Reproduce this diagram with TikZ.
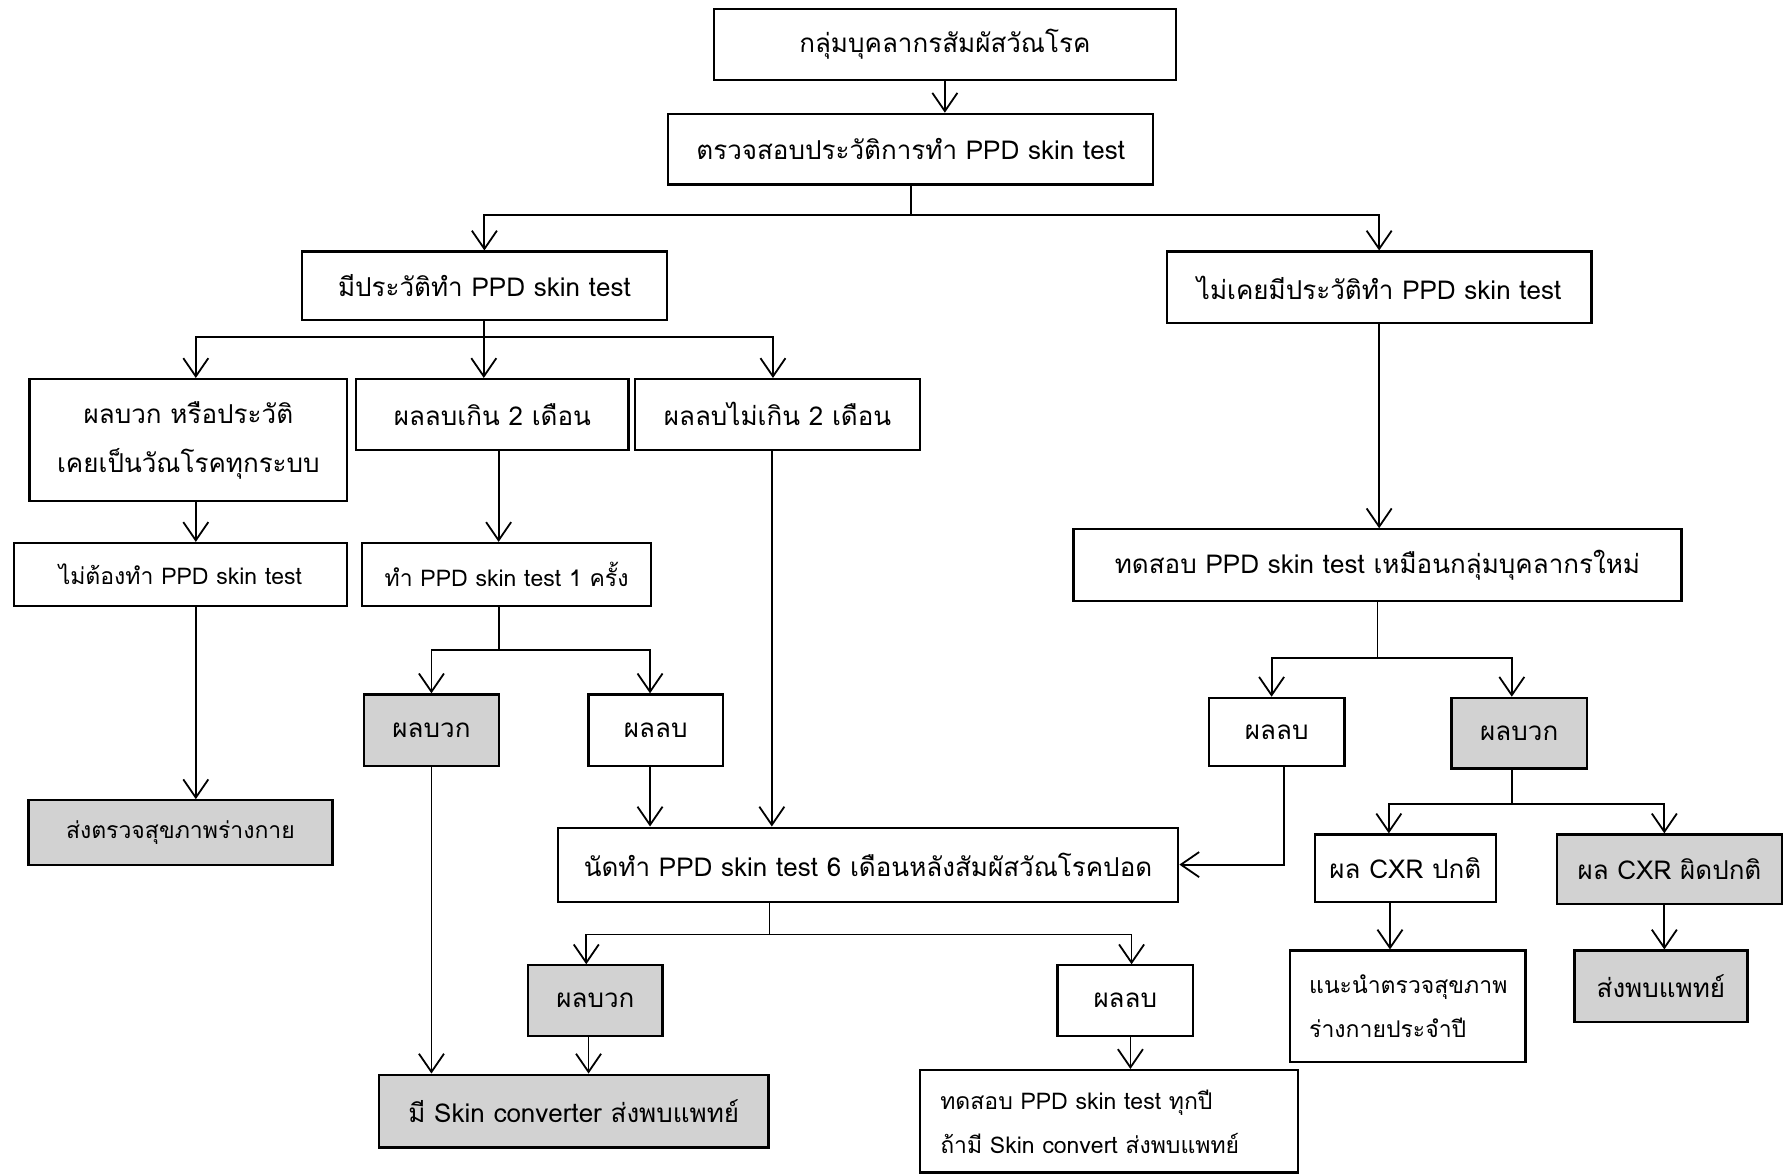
\documentclass[tikz,border=0pt]{standalone}
\usepackage{fontspec}
\setmainfont[Script=Thai]{Loma}
\usetikzlibrary{arrows.meta}
\begin{document}
\begin{tikzpicture}[x=0.2mm, y=-0.2mm,
    box/.style={draw, line width=1.1pt, inner sep=0pt, align=center, font=\fontsize{13}{22}\selectfont},
    smallbox/.style={box, font=\fontsize{11.5}{22}\selectfont},
    greybox/.style={box, fill=gray!35},
    link/.style={line width=0.9pt},
    arr/.style={link, -{Straight Barb[length=3.2mm, width=4.4mm]}}]
    \useasboundingbox (0, 0) rectangle (1568, 1031);

    \node[box, minimum width=81.2mm, minimum height=12.4mm] (top) at (830, 39) {กลุ่มบุคลากรสัมผัสวัณโรค};
    \node[box, minimum width=85.2mm, minimum height=12.4mm] (hist) at (800, 131) {ตรวจสอบประวัติการทำ PPD skin test};
    \node[box, minimum width=64.2mm, minimum height=12mm] (had) at (425.5, 251) {มีประวัติทำ PPD skin test};
    \node[box, minimum width=74.6mm, minimum height=12.6mm] (never) at (1211.5, 252.5) {ไม่เคยมีประวัติทำ PPD skin test};
    \node[box, minimum width=55.8mm, minimum height=21.4mm, font=\fontsize{13}{24.5}\selectfont] (posor) at (165.5, 386.5) {ผลบวก หรือประวัติ\\เคยเป็นวัณโรคทุกระบบ};
    \node[box, minimum width=47.8mm, minimum height=12.4mm] (negmore) at (432.5, 364) {ผลลบเกิน 2 เดือน};
    \node[box, minimum width=50mm, minimum height=12.4mm] (negle) at (683, 364) {ผลลบไม่เกิน 2 เดือน};
    \node[smallbox, minimum width=58.6mm, minimum height=11mm] (noneed) at (158.5, 504.5) {ไม่ต้องทำ PPD skin test};
    \node[smallbox, minimum width=50.8mm, minimum height=11mm] (once) at (445, 504.5) {ทำ PPD skin test 1 ครั้ง};
    \node[greybox, minimum width=23.6mm, minimum height=12.6mm] (pos) at (379, 641.5) {ผลบวก};
    \node[box, minimum width=23.6mm, minimum height=12.6mm] (neg) at (576, 641.5) {ผลลบ};
    \node[smallbox, fill=gray!35, minimum width=53.4mm, minimum height=11.4mm] (sendcheck) at (158.5, 731.5) {ส่งตรวจสุขภาพร่างกาย};
    \node[box, minimum width=109mm, minimum height=13mm] (appoint) at (762.5, 759.5) {นัดทำ PPD skin test 6 เดือนหลังสัมผัสวัณโรคปอด};
    \node[greybox, minimum width=23.6mm, minimum height=12.4mm] (pos2) at (523, 879) {ผลบวก};
    \node[box, minimum width=23.8mm, minimum height=12.4mm] (neg2) at (988.5, 879) {ผลลบ};
    \node[greybox, minimum width=68.4mm, minimum height=12.8mm] (conv) at (504, 976) {มี Skin converter ส่งพบแพทย์};
    \node[smallbox, align=left, inner xsep=3.6mm, text width=59.2mm, minimum height=18mm] (yearly) at (974, 985) {ทดสอบ PPD skin test ทุกปี\\ถ้ามี Skin convert ส่งพบแพทย์};
    \node[box, minimum width=106.8mm, minimum height=12.6mm] (newtest) at (1210, 496.5) {ทดสอบ PPD skin test เหมือนกลุ่มบุคลากรใหม่};
    \node[box, minimum width=23.8mm, minimum height=12mm] (neg3) at (1121.5, 643) {ผลลบ};
    \node[greybox, minimum width=23.8mm, minimum height=12.4mm] (pos3) at (1334.5, 644) {ผลบวก};
    \node[box, minimum width=31.8mm, minimum height=11.8mm] (cxrok) at (1234.5, 762.5) {ผล CXR ปกติ};
    \node[greybox, minimum width=39.4mm, minimum height=12.2mm] (cxrbad) at (1466.5, 763.5) {ผล CXR ผิดปกติ};
    \node[smallbox, align=left, inner xsep=3.4mm, text width=34.6mm, minimum height=19.6mm] (advise) at (1236.5, 884) {แนะนำตรวจสุขภาพ\\ร่างกายประจำปี};
    \node[greybox, minimum width=30.4mm, minimum height=12.6mm] (doctor) at (1459, 866.5) {ส่งพบแพทย์};

    \draw[arr] (top.south) -- (top.south |- hist.north);
    \draw[link] (hist.south) -- ++(0, 26) coordinate (f1);
    \draw[arr] (f1) -| (had.north);
    \draw[arr] (f1) -| (never.north);
    \draw[link] (had.south) -- ++(0, 14) coordinate (f2);
    \draw[arr] (f2) -| ([xshift=1.3mm]posor.north);
    \draw[arr] (f2) -| ([xshift=-1.5mm]negmore.north);
    \draw[arr] (f2) -| ([xshift=-0.8mm]negle.north);
    \draw[arr] ([xshift=1.3mm]posor.south) -- ([xshift=1.3mm]posor.south |- noneed.north);
    \draw[arr] ([xshift=1.1mm]negmore.south) -- ([xshift=1.1mm]negmore.south |- once.north);
    \draw[arr] ([xshift=2.7mm]noneed.south) -- ([xshift=2.7mm]noneed.south |- sendcheck.north);
    \draw[link] ([xshift=-1.4mm]once.south) -- ++(0, 38) coordinate (f3);
    \draw[arr] (f3) -| (pos.north);
    \draw[arr] (f3) -| ([xshift=-1mm]neg.north);
    \draw[arr] ([xshift=-1mm]neg.south) -- ([xshift=-1mm]neg.south |- appoint.north);
    \draw[arr] ([xshift=-1mm]negle.south) -- ([xshift=-1mm]negle.south |- appoint.north);
    \draw[arr] (pos.south) -- (pos.south |- conv.north);
    \draw[link] ([xshift=-17.3mm]appoint.south) -- ++(0, 28) coordinate (f4);
    \draw[arr] (f4) -| ([xshift=-1.6mm]pos2.north);
    \draw[arr] (f4) -| ([xshift=1.1mm]neg2.north);
    \draw[arr] ([xshift=-1.2mm]pos2.south) -- ([xshift=-1.2mm]pos2.south |- conv.north);
    \draw[arr] ([xshift=0.9mm]neg2.south) -- ([xshift=0.9mm]neg2.south |- yearly.north);
    \draw[arr] (never.south) -- (never.south |- newtest.north);
    \draw[link] (newtest.south) -- ++(0, 49) coordinate (f5);
    \draw[arr] (f5) -| ([xshift=-0.9mm]neg3.north);
    \draw[arr] (f5) -| ([xshift=-1.3mm]pos3.north);
    \draw[arr] ([xshift=1.3mm]neg3.south) |- (appoint.east);
    \draw[link] ([xshift=-1.3mm]pos3.south) -- ++(0, 30) coordinate (f6);
    \draw[arr] (f6) -| ([xshift=-2.9mm]cxrok.north);
    \draw[arr] (f6) -| ([xshift=-0.9mm]cxrbad.north);
    \draw[arr] ([xshift=-2.7mm]cxrok.south) -- ([xshift=-2.7mm]cxrok.south |- advise.north);
    \draw[arr] ([xshift=-0.9mm]cxrbad.south) -- ([xshift=-0.9mm]cxrbad.south |- doctor.north);
\end{tikzpicture}
\end{document}
